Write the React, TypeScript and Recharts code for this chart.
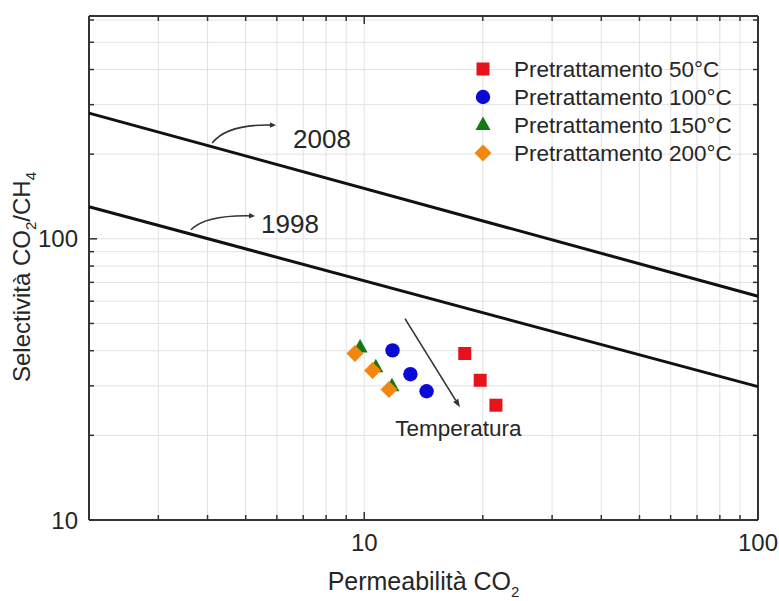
import React from 'react';
import {
  ScatterChart,
  Scatter,
  XAxis,
  YAxis,
  CartesianGrid,
  Legend,
  ReferenceLine,
  ReferenceDot,
  Label,
} from 'recharts';

const FONT = '"Liberation Sans", Arial, Helvetica, sans-serif';
const TEXT = '#262626';
const AXIS = '#333333';

// CO2 permeability (x) and CO2/CH4 selectivity (y) for each pretreatment temperature
const perm50 = [18.0, 19.7, 21.6];
const sel50 = [39.1, 31.4, 25.6];
const perm100 = [11.8, 13.1, 14.4];
const sel100 = [40.1, 33.0, 28.7];
const perm150 = [9.76, 10.7, 11.76];
const sel150 = [41.1, 34.9, 29.9];
const perm200 = [9.47, 10.5, 11.56];
const sel200 = [39.1, 34.0, 29.1];

// Robeson upper bounds
const boundPerm = [2, 100];
const bound2008 = [280, 62.5];
const bound1998 = [130, 29.8];

// Axis ticks (log scale, labels only on decades)
const xTicks = [2, 3, 4, 5, 6, 7, 8, 9, 10, 20, 30, 40, 50, 60, 70, 80, 90, 100];
const yTicks = [10, 20, 30, 40, 50, 60, 70, 80, 90, 100, 200, 300, 400, 500, 600];
const xDomain = [2, 100];
const yDomain = [10, 620];
const decadeLabels = [10, 100];

// Annotations (data coordinates)
const arrow2008 = [{ x: 4.11, y: 219 }, { x: 5.9, y: 253.6 }];
const arrow1998 = [{ x: 3.63, y: 107.7 }, { x: 5.22, y: 120.6 }];
const tempArrow = [{ x: 12.69, y: 52.0 }, { x: 17.5, y: 25.2 }];
const label2008 = { x: 7.81, y: 228, text: '2008' };
const label1998 = { x: 6.48, y: 113, text: '1998' };
const tempLabel = { x: 17.35, y: 21.2, text: 'Temperatura' };

// Frame edges (top, right)
const frameTop = [{ x: xDomain[0], y: yDomain[1] }, { x: xDomain[1], y: yDomain[1] }];
const frameRight = [{ x: xDomain[1], y: yDomain[1] }, { x: xDomain[1], y: yDomain[0] }];

const zip = (xs: number[], ys: number[]) => xs.map((x, i) => ({ x, y: ys[i] }));

type Marker = (cx: number, cy: number) => React.ReactElement;

const square = (color: string): Marker => (cx, cy) => (
  <rect x={cx - 6.5} y={cy - 6.5} width={13} height={13} fill={color} />
);
const circle = (color: string): Marker => (cx, cy) => (
  <circle cx={cx} cy={cy} r={7.2} fill={color} />
);
const triangle = (color: string): Marker => (cx, cy) => (
  <polygon
    points={`${cx},${cy - 8.5} ${cx - 7.5},${cy + 5} ${cx + 7.5},${cy + 5}`}
    fill={color}
  />
);
const diamond = (color: string): Marker => (cx, cy) => (
  <polygon
    points={`${cx},${cy - 8.5} ${cx + 8.5},${cy} ${cx},${cy + 8.5} ${cx - 8.5},${cy}`}
    fill={color}
  />
);

const SERIES = [
  { name: 'Pretrattamento 50°C', data: zip(perm50, sel50), marker: square('#e8121a') },
  { name: 'Pretrattamento 100°C', data: zip(perm100, sel100), marker: circle('#0a0ad6') },
  { name: 'Pretrattamento 150°C', data: zip(perm150, sel150), marker: triangle('#137a13') },
  { name: 'Pretrattamento 200°C', data: zip(perm200, sel200), marker: diamond('#f2860f') },
];

const decadeFormatter = (v: number) => (decadeLabels.includes(v) ? String(v) : '');
const tickLen = (v: number) => (decadeLabels.includes(v) ? 8 : 5);

// Inward tick marks at both ends of a full-height / full-width reference line
const vTicks = (len: number) => (p: any) => {
  const top = Math.min(p.y1, p.y2);
  const bottom = Math.max(p.y1, p.y2);
  return (
    <g stroke={AXIS} strokeWidth={1.5}>
      <line x1={p.x1} y1={top} x2={p.x1} y2={top + len} />
      <line x1={p.x1} y1={bottom} x2={p.x1} y2={bottom - len} />
    </g>
  );
};
const hTicks = (len: number) => (p: any) => {
  const left = Math.min(p.x1, p.x2);
  const right = Math.max(p.x1, p.x2);
  return (
    <g stroke={AXIS} strokeWidth={1.5}>
      <line x1={left} y1={p.y1} x2={left + len} y2={p.y1} />
      <line x1={right} y1={p.y1} x2={right - len} y2={p.y1} />
    </g>
  );
};

const LegendBox = () => (
  <svg width={310} height={120} style={{ display: 'block' }}>
    {SERIES.map((s, i) => (
      <g key={s.name}>
        {s.marker(23, 19 + i * 28)}
        <text
          x={54}
          y={19 + i * 28}
          dy="0.36em"
          fontSize={22.5}
          fontFamily={FONT}
          fill={TEXT}
        >
          {s.name}
        </text>
      </g>
    ))}
  </svg>
);

const CurvedArrow = (p: any) => {
  const { x1, y1, x2, y2 } = p;
  const cx = x1 + 0.25 * (x2 - x1);
  const cy = y2 - 0.1 * (y1 - y2);
  const dx = x2 - cx;
  const dy = y2 - cy;
  const len = Math.hypot(dx, dy) || 1;
  const ux = dx / len;
  const uy = dy / len;
  const tipX = x2 + ux * 2;
  const tipY = y2 + uy * 2;
  const bx = tipX - ux * 6;
  const by = tipY - uy * 6;
  return (
    <g>
      <path d={`M${x1},${y1} Q${cx},${cy} ${x2},${y2}`} fill="none" stroke={AXIS} strokeWidth={1.6} />
      <polygon
        points={`${tipX},${tipY} ${bx - uy * 2.8},${by + ux * 2.8} ${bx + uy * 2.8},${by - ux * 2.8}`}
        fill={AXIS}
      />
    </g>
  );
};

const StraightArrow = (p: any) => {
  const { x1, y1, x2, y2 } = p;
  const dx = x2 - x1;
  const dy = y2 - y1;
  const len = Math.hypot(dx, dy) || 1;
  const ux = dx / len;
  const uy = dy / len;
  const bx = x2 - ux * 8;
  const by = y2 - uy * 8;
  return (
    <g>
      <line x1={x1} y1={y1} x2={bx} y2={by} stroke={AXIS} strokeWidth={1.6} />
      <polygon
        points={`${x2},${y2} ${bx - uy * 3},${by + ux * 3} ${bx + uy * 3},${by - ux * 3}`}
        fill={AXIS}
      />
    </g>
  );
};

const EdgeLine = (p: any) => (
  <line x1={p.x1} y1={p.y1} x2={p.x2} y2={p.y2} stroke={AXIS} strokeWidth={2} />
);

const textShape = (text: string, size: number) => (p: any) => (
  <text
    x={p.cx}
    y={p.cy}
    dy="0.36em"
    textAnchor="middle"
    fontSize={size}
    fontFamily={FONT}
    fill={TEXT}
  >
    {text}
  </text>
);

const XTitle = (props: any) => {
  const vb = props.viewBox || { x: 0, y: 0, width: 0, height: 0 };
  return (
    <text
      x={vb.x + vb.width / 2}
      y={vb.y + 70}
      textAnchor="middle"
      fontSize={25}
      fontFamily={FONT}
      fill={TEXT}
    >
      Permeabilità CO
      <tspan dy={7} fontSize={15}>2</tspan>
    </text>
  );
};

const YTitle = (props: any) => {
  const vb = props.viewBox || { x: 0, y: 0, width: 0, height: 0 };
  const x = vb.x + 30;
  const y = vb.y + vb.height / 2 + 9;
  return (
    <text
      x={x}
      y={y}
      transform={`rotate(-90, ${x}, ${y})`}
      textAnchor="middle"
      fontSize={24}
      fontFamily={FONT}
      fill={TEXT}
    >
      Selectività CO
      <tspan dy={6} fontSize={15}>2</tspan>
      <tspan dy={-6}>/CH</tspan>
      <tspan dy={6} fontSize={15}>4</tspan>
    </text>
  );
};

const tickStyle = { fontSize: 24, fontFamily: FONT, fill: TEXT };
const axisLine = { stroke: AXIS, strokeWidth: 2 };

export default function App() {
  return (
    <div style={{ position: 'absolute', left: 0, top: 0, width: 779, height: 601, background: '#fff' }}>
      <ScatterChart
        width={779}
        height={601}
        margin={{ top: 16, right: 21, bottom: 0, left: 0 }}
        style={{ fontFamily: FONT }}
      >
        <CartesianGrid stroke="#e2e2e2" strokeWidth={1} />
        <XAxis
          dataKey="x"
          type="number"
          scale="log"
          domain={xDomain}
          ticks={xTicks}
          height={81}
          tickSize={-6}
          tickMargin={20}
          tickFormatter={decadeFormatter}
          tick={tickStyle}
          axisLine={axisLine}
          tickLine={false}
          interval={0}
        >
          <Label content={XTitle} />
        </XAxis>
        <YAxis
          dataKey="y"
          type="number"
          scale="log"
          domain={yDomain}
          ticks={yTicks}
          width={89}
          tickSize={-6}
          tickMargin={17}
          tickFormatter={decadeFormatter}
          tick={tickStyle}
          axisLine={axisLine}
          tickLine={false}
          interval={0}
        >
          <Label content={YTitle} />
        </YAxis>

        {/* frame: top and right edges */}
        <ReferenceLine segment={frameTop} ifOverflow="visible" shape={EdgeLine} />
        <ReferenceLine segment={frameRight} ifOverflow="visible" shape={EdgeLine} />

        {/* inward ticks on all four sides */}
        {xTicks.map((t) => (
          <ReferenceLine key={`xt-${t}`} x={t} ifOverflow="visible" shape={vTicks(tickLen(t))} />
        ))}
        {yTicks.map((t) => (
          <ReferenceLine key={`yt-${t}`} y={t} ifOverflow="visible" shape={hTicks(tickLen(t))} />
        ))}

        <Scatter
          name="Robeson 2008"
          data={zip(boundPerm, bound2008)}
          line={{ stroke: '#111', strokeWidth: 3 }}
          shape={() => <g />}
          legendType="none"
          isAnimationActive={false}
        />
        <Scatter
          name="Robeson 1998"
          data={zip(boundPerm, bound1998)}
          line={{ stroke: '#111', strokeWidth: 3 }}
          shape={() => <g />}
          legendType="none"
          isAnimationActive={false}
        />

        {SERIES.map((s) => (
          <Scatter
            key={s.name}
            name={s.name}
            data={s.data}
            shape={(p: any) => s.marker(p.cx, p.cy)}
            isAnimationActive={false}
          />
        ))}

        <ReferenceLine segment={arrow2008} shape={CurvedArrow} />
        <ReferenceLine segment={arrow1998} shape={CurvedArrow} />
        <ReferenceLine segment={tempArrow} shape={StraightArrow} />
        <ReferenceDot x={label2008.x} y={label2008.y} shape={textShape(label2008.text, 26)} />
        <ReferenceDot x={label1998.x} y={label1998.y} shape={textShape(label1998.text, 26)} />
        <ReferenceDot x={tempLabel.x} y={tempLabel.y} shape={textShape(tempLabel.text, 22.5)} />

        <Legend
          layout="vertical"
          verticalAlign="middle"
          align="center"
          wrapperStyle={{ left: 460, top: 50, width: 310, height: 120 }}
          content={() => <LegendBox />}
        />
      </ScatterChart>
    </div>
  );
}
